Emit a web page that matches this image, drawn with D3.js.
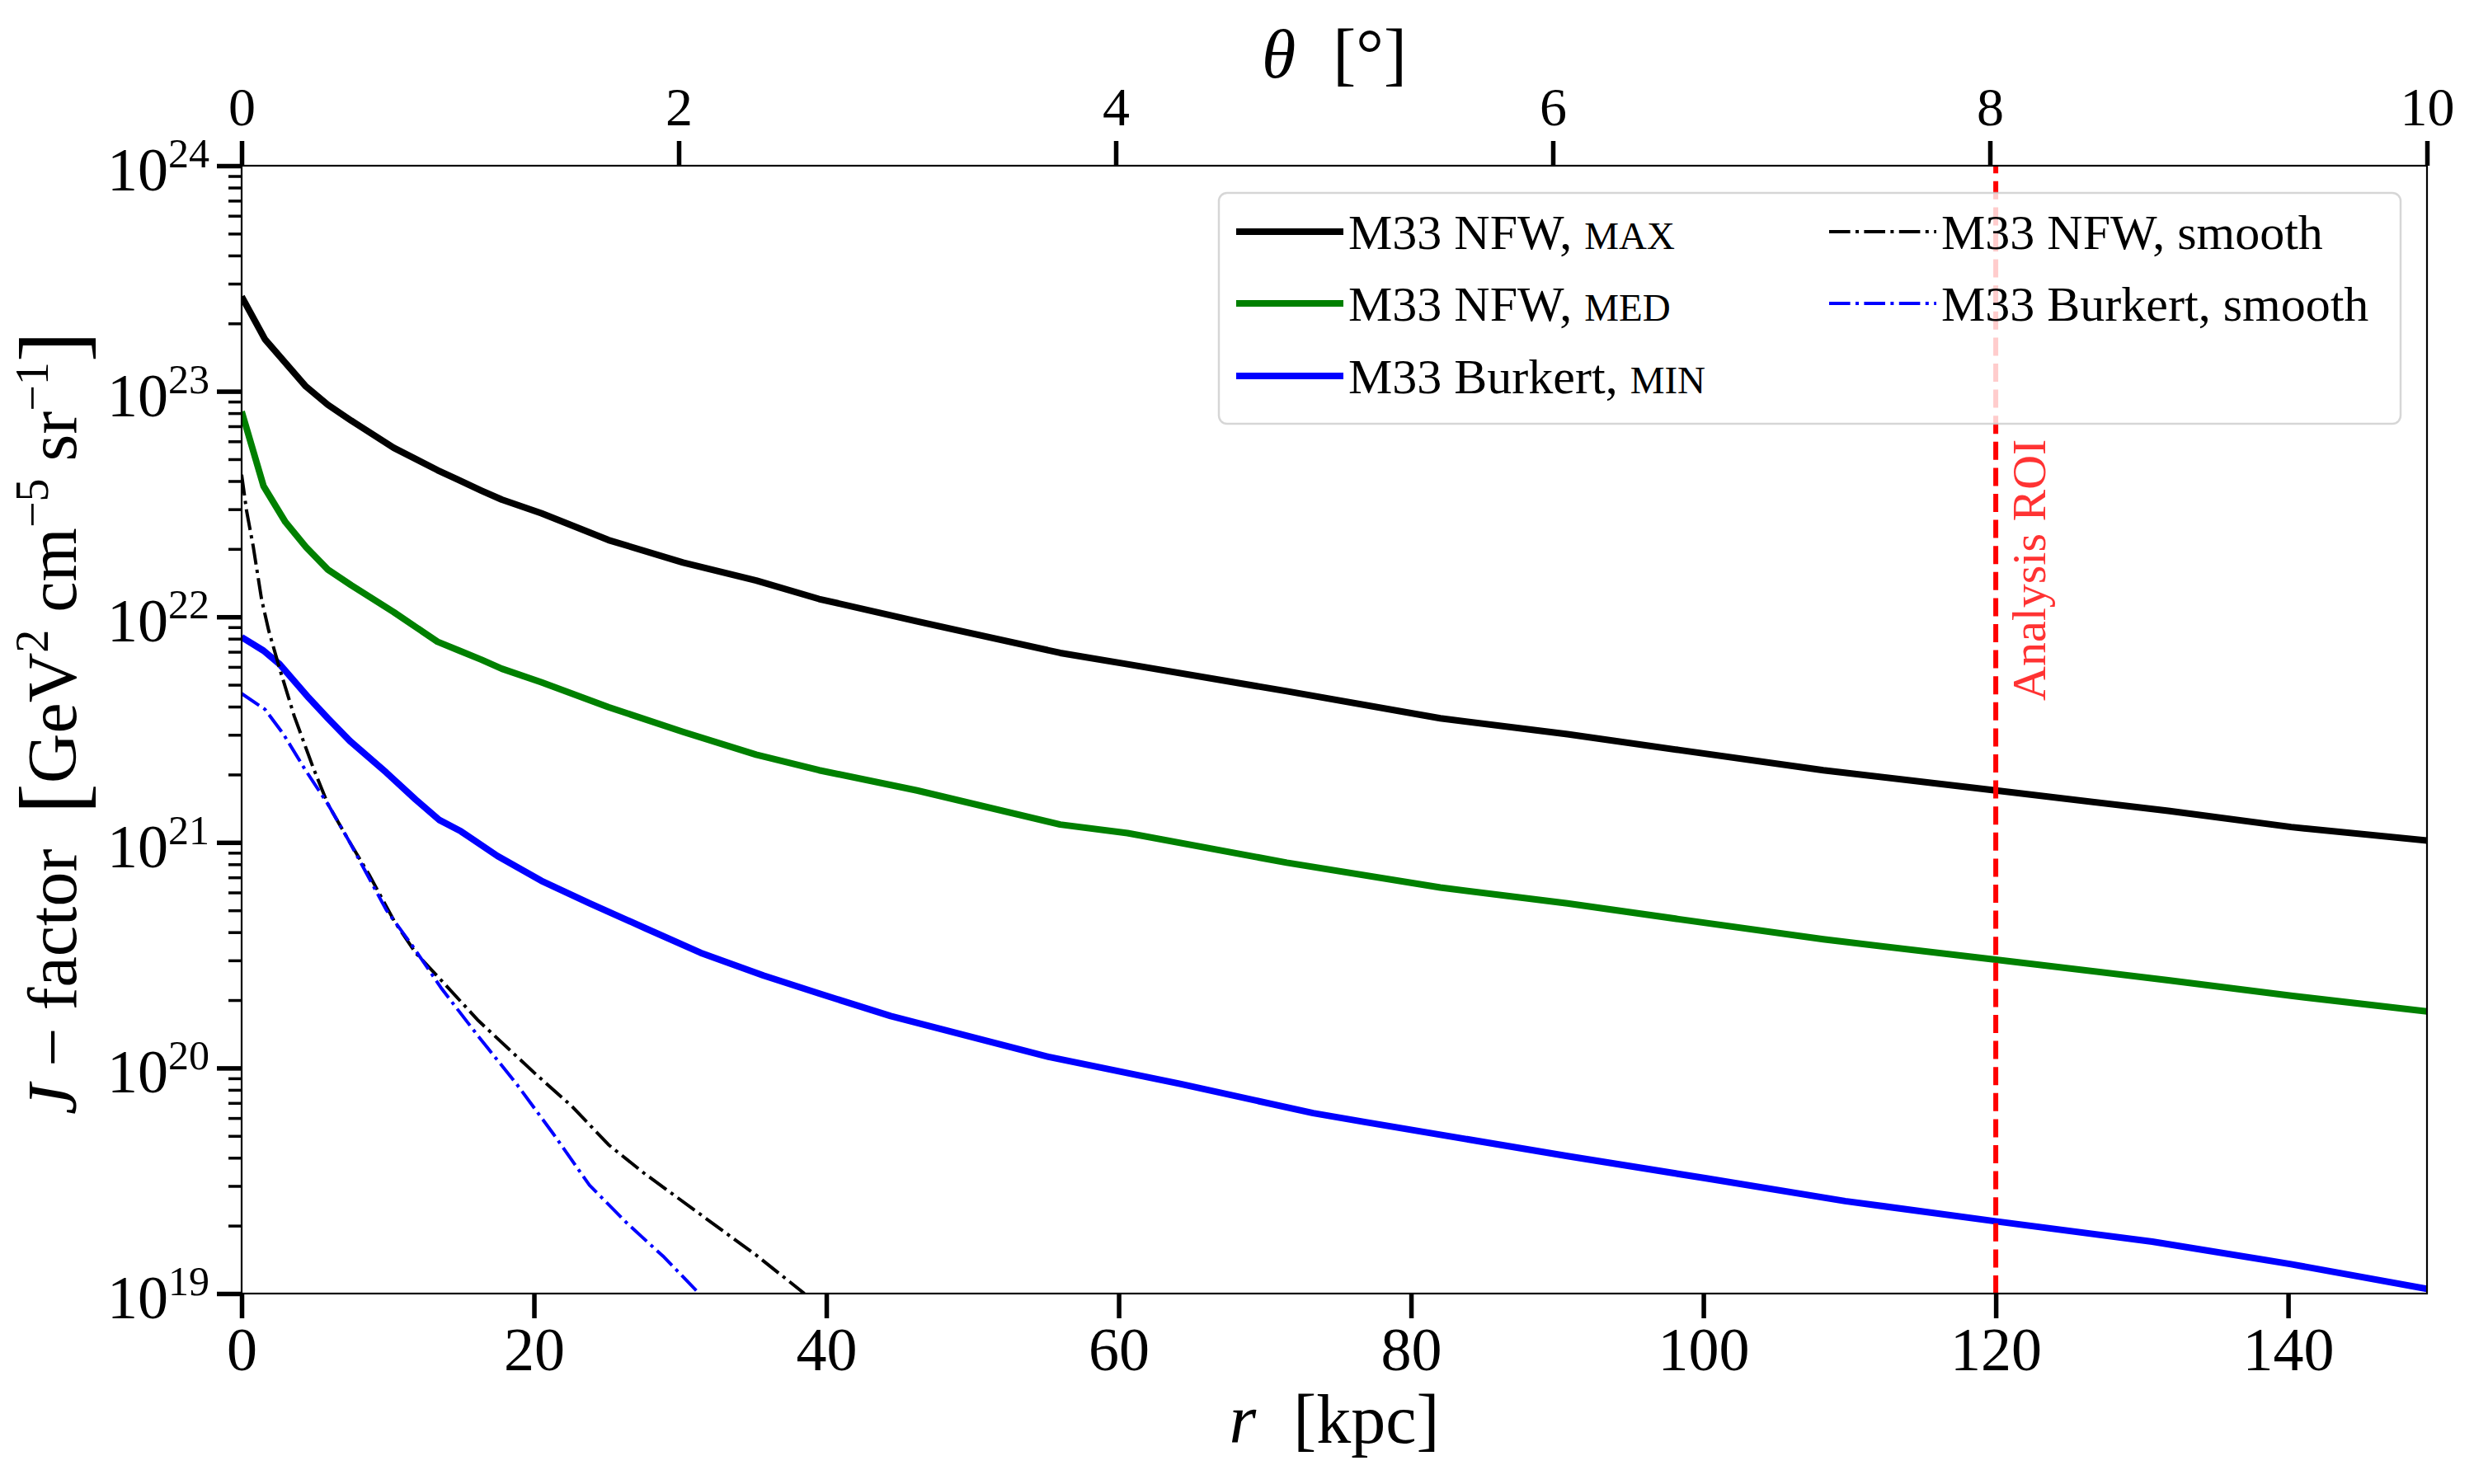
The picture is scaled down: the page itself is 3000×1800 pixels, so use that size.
<!DOCTYPE html>
<html>
<head>
<meta charset="utf-8">
<script src="https://cdn.jsdelivr.net/npm/d3@7"></script>
<style>
body { margin: 0; background: #fff; }
text { font-family: "Liberation Serif", "DejaVu Serif", serif; fill: #000; white-space: pre; }
</style>
</head>
<body>
<div id="chart"></div>
<script>

// r in kpc, J-factor in GeV^2 cm^-5 sr^-1
var rNfwMax = [0, 1.6, 4.4, 5.9, 7.5, 10.4, 13.4, 14.75, 16.4, 17.8, 20.5, 25.1, 30.2, 35.2, 39.5, 46.2, 56.0, 60.6, 71.5, 82.0, 90.7, 98.3, 108.2, 120, 131.8, 140.2, 149.5];
var jNfwMax = [2.63e23, 1.70e23, 1.05e23, 8.71e22, 7.41e22, 5.62e22, 4.47e22, 4.07e22, 3.63e22, 3.31e22, 2.88e22, 2.19e22, 1.74e22, 1.45e22, 1.20e22, 9.55e21, 6.92e21, 6.17e21, 4.68e21, 3.55e21, 3.02e21, 2.57e21, 2.09e21, 1.70e21, 1.38e21, 1.17e21, 1.02e21];

var rNfwMed = [0, 1.5, 3.0, 4.4, 5.9, 7.5, 10.4, 13.4, 14.9, 16.4, 17.8, 20.5, 25.1, 30.2, 35.2, 39.5, 46.2, 56.0, 60.6, 71.5, 82.0, 90.7, 98.3, 108.2, 120, 131.8, 140.2, 149.5];
var jNfwMed = [8.13e22, 3.80e22, 2.63e22, 2.04e22, 1.62e22, 1.38e22, 1.05e22, 7.76e21, 7.08e21, 6.46e21, 5.89e21, 5.13e21, 3.98e21, 3.09e21, 2.45e21, 2.09e21, 1.70e21, 1.20e21, 1.10e21, 8.13e20, 6.31e20, 5.37e20, 4.57e20, 3.72e20, 3.02e20, 2.45e20, 2.09e20, 1.78e20];

var rBurMin = [0, 1.5, 2.6, 4.6, 5.9, 7.4, 9.9, 11.9, 13.5, 15.0, 17.5, 20.5, 23.8, 27.6, 31.4, 35.7, 39.5, 44.4, 55.2, 64.2, 73.3, 76.9, 90.7, 100.2, 109.7, 120, 130.7, 140.2, 149.5];
var jBurMin = [8.13e21, 7.08e21, 6.17e21, 4.37e21, 3.55e21, 2.82e21, 2.04e21, 1.55e21, 1.26e21, 1.12e21, 8.71e20, 6.76e20, 5.37e20, 4.17e20, 3.24e20, 2.57e20, 2.14e20, 1.70e20, 1.12e20, 8.51e19, 6.31e19, 5.75e19, 4.07e19, 3.24e19, 2.57e19, 2.09e19, 1.70e19, 1.35e19, 1.05e19];

var rNfwSmooth = [0, 0.34, 0.8, 1.36, 1.85, 2.6, 3.6, 4.9, 5.9, 7.4, 8.7, 10.45, 11.9, 13.5, 16.2, 20.0, 22.6, 25.1, 27.6, 31.4, 35.2, 38.5];
var jNfwSmooth = [4.27e22, 2.95e22, 2.04e22, 1.20e22, 8.71e21, 5.89e21, 3.63e21, 2.14e21, 1.48e21, 1.00e21, 7.24e20, 4.47e20, 3.24e20, 2.51e20, 1.62e20, 9.55e19, 6.76e19, 4.57e19, 3.39e19, 2.24e19, 1.48e19, 1.00e19];

var rBurSmooth = [0, 1.6, 2.86, 4.37, 5.9, 7.4, 9.9, 11.7, 13.7, 16.2, 18.8, 21.3, 23.8, 26.4, 28.9, 31.3];
var jBurSmooth = [4.57e21, 3.89e21, 3.02e21, 2.09e21, 1.48e21, 1.00e21, 5.01e20, 3.47e20, 2.24e20, 1.38e20, 8.51e19, 5.13e19, 3.02e19, 2.04e19, 1.45e19, 1.00e19];

var xTicks = [0, 20, 40, 60, 80, 100, 120, 140];
var thetaTicks = [0, 2, 4, 6, 8, 10];
var yExponents = [19, 20, 21, 22, 23, 24];
var roiRadius = 120;

var width = 3000, height = 1800;
var plot = { left: 293, top: 201, right: 2943, bottom: 1569 };

var svg = d3.select("#chart").append("svg")
    .attr("width", width)
    .attr("height", height);

svg.append("rect").attr("width", width).attr("height", height).attr("fill", "#fff");

var x = d3.scaleLinear().domain([0, 149.5]).range([plot.left, plot.right]);
var xTop = d3.scaleLinear().domain([0, 10]).range([plot.left, plot.right]);
var y = d3.scaleLog().domain([1e19, 1e24]).range([plot.bottom, plot.top]);

svg.append("clipPath").attr("id", "plotclip")
  .append("rect")
    .attr("x", plot.left).attr("y", plot.top)
    .attr("width", plot.right - plot.left).attr("height", plot.bottom - plot.top);

// curves
var series = [
  { r: rNfwMax, j: jNfwMax, color: "#000000", lw: 8, dash: null, label: "M33 NFW, ", sc: "max" },
  { r: rNfwMed, j: jNfwMed, color: "#008000", lw: 8, dash: null, label: "M33 NFW, ", sc: "med" },
  { r: rBurMin, j: jBurMin, color: "#0000ff", lw: 8, dash: null, label: "M33 Burkert, ", sc: "min" },
  { r: rNfwSmooth, j: jNfwSmooth, color: "#000000", lw: 4, dash: "25.6,6.4,4,6.4", label: "M33 NFW, smooth", sc: "" },
  { r: rBurSmooth, j: jBurSmooth, color: "#0000ff", lw: 4, dash: "25.6,6.4,4,6.4", label: "M33 Burkert, smooth", sc: "" }
];

var line = d3.line()
    .x(function(d) { return x(d[0]); })
    .y(function(d) { return y(d[1]); });

var curves = svg.append("g").attr("clip-path", "url(#plotclip)");
series.forEach(function(s) {
  var pts = s.r.map(function(r, i) { return [r, s.j[i]]; });
  curves.append("path")
    .attr("d", line(pts))
    .attr("fill", "none")
    .attr("stroke", s.color)
    .attr("stroke-width", s.lw)
    .attr("stroke-linejoin", "round")
    .attr("stroke-dasharray", s.dash);
});

// analysis ROI
svg.append("line")
  .attr("x1", x(roiRadius)).attr("x2", x(roiRadius))
  .attr("y1", plot.bottom).attr("y2", plot.top)
  .attr("stroke", "#ff0000")
  .attr("stroke-width", 6)
  .attr("stroke-dasharray", "22,9.6");

svg.append("text")
  .attr("transform", "translate(" + (x(roiRadius) + 60) + ",850) rotate(-90)")
  .attr("font-size", 58)
  .style("fill", "#ff0000")
  .style("fill-opacity", 0.8)
  .text("Analysis ROI");

// axes
var bottomAxis = svg.append("g")
  .attr("transform", "translate(0," + plot.bottom + ")")
  .call(d3.axisBottom(x).tickValues(xTicks).tickSize(30).tickPadding(10).tickFormat(d3.format("d")));

var topAxis = svg.append("g")
  .attr("transform", "translate(0," + plot.top + ")")
  .call(d3.axisTop(xTop).tickValues(thetaTicks).tickSize(30).tickPadding(19).tickFormat(d3.format("d")));

var minorVals = [];
yExponents.forEach(function(e) {
  if (e < 24) for (var k = 2; k <= 9; k++) minorVals.push(k * Math.pow(10, e));
});

var leftMinor = svg.append("g")
  .attr("transform", "translate(" + plot.left + ",0)")
  .call(d3.axisLeft(y).tickValues(minorVals).tickSize(16).tickFormat(""));

var leftMajor = svg.append("g")
  .attr("transform", "translate(" + plot.left + ",0)")
  .call(d3.axisLeft(y).tickValues(yExponents.map(function(e) { return Math.pow(10, e); })).tickSize(30).tickFormat(""));

[bottomAxis, topAxis, leftMinor, leftMajor].forEach(function(g) {
  g.attr("font-family", null);
  g.select(".domain").remove();
  g.selectAll("text").style("fill", "#000");
});
bottomAxis.selectAll("line").attr("stroke", "#000").attr("stroke-width", 5.5);
topAxis.selectAll("line").attr("stroke", "#000").attr("stroke-width", 5.5);
leftMajor.selectAll("line").attr("stroke", "#000").attr("stroke-width", 5.5);
leftMinor.selectAll("line").attr("stroke", "#000").attr("stroke-width", 3.5);
bottomAxis.selectAll("text").attr("font-size", 74);
topAxis.selectAll("text").attr("font-size", 66);

var ylab = svg.append("g").selectAll("text")
  .data(yExponents)
  .enter()
  .append("text")
    .attr("x", 254)
    .attr("y", function(e) { return y(Math.pow(10, e)) + 30; })
    .attr("text-anchor", "end")
    .attr("font-size", 74);
ylab.append("tspan").text("10");
ylab.append("tspan").attr("font-size", 50).attr("dy", -28).text(function(e) { return e; });

// frame
svg.append("rect")
  .attr("x", plot.left).attr("y", plot.top)
  .attr("width", plot.right - plot.left).attr("height", plot.bottom - plot.top)
  .attr("fill", "none")
  .attr("stroke", "#000")
  .attr("stroke-width", 2.2);

// axis titles
var xTitle = svg.append("text")
  .attr("x", (plot.left + plot.right) / 2)
  .attr("y", 1750)
  .attr("text-anchor", "middle")
  .attr("font-size", 84);
xTitle.append("tspan").attr("font-style", "italic").text("r");
xTitle.append("tspan").attr("dx", 45).text("[kpc]");

var tTitle = svg.append("text")
  .attr("x", (plot.left + plot.right) / 2)
  .attr("y", 94)
  .attr("text-anchor", "middle")
  .attr("font-size", 84);
tTitle.append("tspan").attr("font-style", "italic").text("θ");
tTitle.append("tspan").attr("dx", 45).text("[°]");

var yTitle = svg.append("text")
  .attr("transform", "translate(92," + ((plot.top + plot.bottom) / 2 - 8) + ") rotate(-90)")
  .attr("text-anchor", "middle")
  .attr("font-size", 84);
yTitle.append("tspan").attr("font-style", "italic").text("J");
yTitle.append("tspan").text(" − factor  ");
yTitle.append("tspan").attr("font-size", 112).attr("dy", 9).text("[");
yTitle.append("tspan").attr("dy", -9).text("GeV");
yTitle.append("tspan").attr("font-size", 56).attr("dy", -34).text("2");
yTitle.append("tspan").attr("dy", 34).text(" cm");
yTitle.append("tspan").attr("font-size", 56).attr("dy", -34).text("−5");
yTitle.append("tspan").attr("dy", 34).text(" sr");
yTitle.append("tspan").attr("font-size", 56).attr("dy", -34).text("−1");
yTitle.append("tspan").attr("font-size", 112).attr("dy", 43).text("]");

// legend
var legend = svg.append("g");
legend.append("rect")
  .attr("x", 1478).attr("y", 234)
  .attr("width", 1433).attr("height", 280)
  .attr("rx", 10).attr("ry", 10)
  .attr("fill", "#fff").attr("fill-opacity", 0.8)
  .attr("stroke", "#cccccc").attr("stroke-opacity", 0.8).attr("stroke-width", 2.5);

var legendCols = [1499, 2218];
var legendRows = [281, 368, 456];
var legendPos = [[0, 0], [0, 1], [0, 2], [1, 0], [1, 1]];
var handleLen = 130;

var item = legend.selectAll("g.item")
  .data(series)
  .enter()
  .append("g")
    .attr("class", "item")
    .attr("transform", function(d, i) {
      return "translate(" + legendCols[legendPos[i][0]] + "," + legendRows[legendPos[i][1]] + ")";
    });
item.append("line")
  .attr("x1", 0).attr("x2", handleLen)
  .attr("stroke", function(d) { return d.color; })
  .attr("stroke-width", function(d) { return d.lw; })
  .attr("stroke-dasharray", function(d) { return d.dash; });
var itemText = item.append("text")
  .attr("x", handleLen + 6)
  .attr("y", 21)
  .attr("font-size", 60);
itemText.append("tspan").text(function(d) { return d.label; });
// small caps drawn as reduced capitals
itemText.append("tspan").attr("font-size", 47).text(function(d) { return d.sc.toUpperCase(); });

</script>
</body>
</html>
